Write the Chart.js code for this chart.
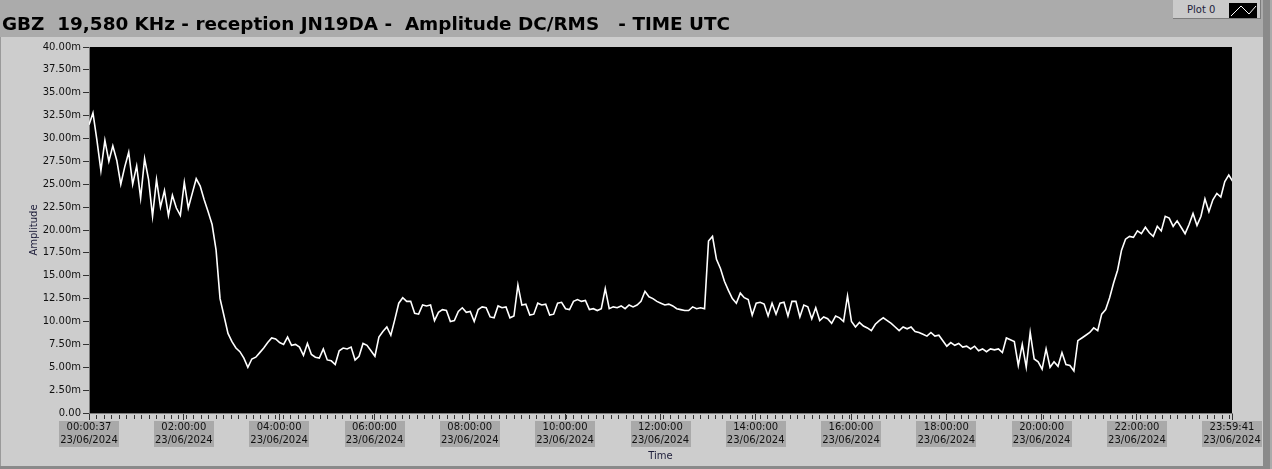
<!DOCTYPE html>
<html>
<head>
<meta charset="utf-8">
<script src="https://cdn.jsdelivr.net/npm/chart.js@4.4.1/dist/chart.umd.min.js"></script>
<style>
  html, body { margin: 0; padding: 0; background: #ababab; }
  #wrap { position: relative; width: 1272px; height: 469px; overflow: hidden; }
  #title { position: absolute; left: 2px; top: 14px; font: bold 18.4px "DejaVu Sans"; line-height: 20px; color: #000; white-space: pre; }
  #legend { position: absolute; left: 1173px; top: 0; width: 88px; height: 19px; background: #cacaca;
            border-right: 1px solid #7c7c7c; border-bottom: 1px solid #7c7c7c; box-sizing: border-box; }
  #legend span { position: absolute; left: 14px; top: 4px; font: 10px "DejaVu Sans"; color: #1d1d3a; }
  #legend svg { position: absolute; left: 56px; top: 3px; }
</style>
</head>
<body>
<div id="wrap">
  <canvas id="graph" width="1272" height="469"></canvas>
  <div id="title">GBZ  19,580 KHz - reception JN19DA -  Amplitude DC/RMS   - TIME UTC</div>
  <div id="legend"><span>Plot 0</span>
    <svg width="28" height="15"><rect width="28" height="15" fill="#000"/><polyline points="2,13 12,3 20,11 27,3" fill="none" stroke="#fff" stroke-width="1"/></svg>
  </div>
</div>
<script>
// samples: one every 5 minutes, first one at 00:00:37
var startSec = 37;
var endSec = 86381;   // 23:59:41
var stepSec = 300;

// amplitude in milli-units
var amplitude = [
  31.5, 32.8, 29.8, 26.5, 29.8, 27.5, 29.2, 27.6, 25.0, 26.9,
  28.5, 25.0, 27.0, 23.5, 27.8, 25.5, 21.5, 25.5, 22.5, 24.3,
  21.6, 23.8, 22.4, 21.6, 25.2, 22.4, 24.0, 25.6, 24.8, 23.3,
  22.0, 20.6, 17.8, 12.5, 10.6, 8.7, 7.8, 7.1, 6.7, 6.0,
  5.0, 5.9, 6.1, 6.6, 7.1, 7.7, 8.2, 8.1, 7.7, 7.5,
  8.3, 7.4, 7.5, 7.2, 6.3, 7.6, 6.4, 6.1, 6.0, 7.0,
  5.8, 5.7, 5.3, 6.8, 7.1, 7.0, 7.2, 5.8, 6.2, 7.6,
  7.4, 6.8, 6.2, 8.3, 8.9, 9.4, 8.5, 10.2, 12.0, 12.6,
  12.2, 12.2, 10.9, 10.8, 11.8, 11.7, 11.8, 10.1, 11.0, 11.3,
  11.2, 10.0, 10.1, 11.1, 11.5, 11.0, 11.1, 10.0, 11.3, 11.6,
  11.5, 10.5, 10.4, 11.7, 11.5, 11.6, 10.4, 10.6, 14.0, 11.8,
  11.9, 10.7, 10.8, 12.0, 11.8, 11.9, 10.7, 10.8, 12.0, 12.1,
  11.4, 11.3, 12.2, 12.4, 12.2, 12.3, 11.3, 11.4, 11.2, 11.4,
  13.6, 11.4, 11.6, 11.5, 11.7, 11.4, 11.8, 11.6, 11.8, 12.2,
  13.3, 12.7, 12.5, 12.2, 12.0, 11.8, 11.9, 11.7, 11.4, 11.3,
  11.2, 11.2, 11.6, 11.4, 11.5, 11.4, 18.8, 19.3, 16.8, 15.8,
  14.4, 13.4, 12.5, 12.0, 13.1, 12.6, 12.4, 10.7, 12.0, 12.1,
  11.9, 10.6, 12.0, 10.8, 12.0, 12.1, 10.6, 12.2, 12.2, 10.5,
  11.8, 11.6, 10.3, 11.5, 10.1, 10.5, 10.3, 9.8, 10.6, 10.4,
  10.0, 12.8, 10.0, 9.4, 9.9, 9.5, 9.3, 9.0, 9.7, 10.1,
  10.4, 10.1, 9.8, 9.4, 9.0, 9.4, 9.2, 9.4, 8.9, 8.8,
  8.6, 8.4, 8.8, 8.4, 8.5, 7.9, 7.3, 7.7, 7.4, 7.6,
  7.2, 7.3, 7.0, 7.3, 6.8, 7.0, 6.7, 7.0, 6.9, 7.0,
  6.6, 8.2, 8.0, 7.8, 5.2, 7.5, 5.0, 8.8, 5.9, 5.6,
  4.8, 7.0, 5.0, 5.6, 5.1, 6.6, 5.3, 5.2, 4.6, 7.9,
  8.2, 8.5, 8.8, 9.3, 9.0, 10.8, 11.3, 12.6, 14.2, 15.6,
  17.8, 19.0, 19.3, 19.2, 19.9, 19.6, 20.3, 19.7, 19.3, 20.4,
  19.9, 21.5, 21.3, 20.4, 21.0, 20.3, 19.6, 20.6, 21.8, 20.5,
  21.5, 23.4, 22.0, 23.3, 24.0, 23.6, 25.3, 26.0, 25.3
];

var xTickSec = [37, 7200, 14400, 21600, 28800, 36000, 43200, 50400, 57600, 64800, 72000, 79200, 86381];
var xTickTime = ['00:00:37', '02:00:00', '04:00:00', '06:00:00', '08:00:00', '10:00:00', '12:00:00',
                 '14:00:00', '16:00:00', '18:00:00', '20:00:00', '22:00:00', '23:59:41'];
var xTickDate = '23/06/2024';
var yTickValues = [0, 2.5, 5, 7.5, 10, 12.5, 15, 17.5, 20, 22.5, 25, 27.5, 30, 32.5, 35, 37.5, 40];
var yTickLabels = ['0.00', '2.50m', '5.00m', '7.50m', '10.00m', '12.50m', '15.00m', '17.50m', '20.00m',
                   '22.50m', '25.00m', '27.50m', '30.00m', '32.50m', '35.00m', '37.50m', '40.00m'];
var minorStepSec = 563;

var FONT = 'DejaVu Sans';

var points = amplitude.map(function(v, i) { return { x: startSec + i * stepSec, y: v }; });

// panel, plot background and the grey boxes behind the time labels
var panelPlugin = {
  id: 'panel',
  beforeDraw: function(chart) {
    var c = chart.ctx, a = chart.chartArea, xs = chart.scales.x;
    c.save();
    c.fillStyle = '#ababab'; c.fillRect(0, 0, chart.width, chart.height);
    c.fillStyle = '#cdcdcd'; c.fillRect(0, 37, 1263, 430);
    c.fillStyle = '#9a9a9a'; c.fillRect(0, 37, 1, 430);
    c.fillStyle = '#8a8a8a'; c.fillRect(1263, 0, 7, chart.height);
    c.fillStyle = '#8a8a8a'; c.fillRect(0, 466, 1263, 3);
    c.fillStyle = '#000'; c.fillRect(a.left, a.top, a.right - a.left, a.bottom - a.top);
    c.font = '10px "' + FONT + '"';
    c.fillStyle = '#a9a9a9';
    xTickSec.forEach(function(t, i) {
      var w = Math.max(c.measureText(xTickTime[i]).width, c.measureText(xTickDate).width) + 2;
      var px = xs.getPixelForValue(t);
      c.fillRect(Math.round(px - w / 2), a.bottom + 8, Math.round(w), 26);
    });
    c.restore();
  },
  afterDraw: function(chart) {
    var c = chart.ctx, a = chart.chartArea, xs = chart.scales.x;
    c.save();
    c.strokeStyle = '#333';
    c.lineWidth = 1;
    c.beginPath();
    for (var t = startSec + minorStepSec; t < endSec; t += minorStepSec) {
      var px = Math.round(xs.getPixelForValue(t)) + 0.5;
      c.moveTo(px, a.bottom + 2);
      c.lineTo(px, a.bottom + 6);
    }
    c.stroke();
    c.restore();
  }
};

var ctx = document.getElementById('graph').getContext('2d');
var graph = new Chart(ctx, {
  type: 'line',
  data: {
    datasets: [{
      label: 'Plot 0',
      data: points,
      borderColor: '#ffffff',
      borderWidth: 1.6,
      pointRadius: 0,
      tension: 0
    }]
  },
  options: {
    responsive: false,
    animation: false,
    layout: { padding: { top: 47, right: 40, bottom: 0, left: 0 } },
    plugins: { legend: { display: false }, tooltip: { enabled: false } },
    scales: {
      x: {
        type: 'linear',
        min: startSec,
        max: endSec,
        afterBuildTicks: function(s) { s.ticks = xTickSec.map(function(v) { return { value: v }; }); },
        afterFit: function(s) { s.height = 56; },
        ticks: {
          autoSkip: false, maxRotation: 0, padding: 1, color: '#111',
          font: { family: FONT, size: 10, lineHeight: 1.3 },
          callback: function(v, i) { return [xTickTime[i], xTickDate]; }
        },
        grid: { drawOnChartArea: false, tickLength: 7, tickColor: '#333', color: '#333' },
        border: { color: '#7a7a7a' },
        title: { display: true, text: 'Time', color: '#1d1d3a', font: { family: FONT, size: 10 }, padding: { top: 0, bottom: 7 } }
      },
      y: {
        min: 0,
        max: 40,
        afterBuildTicks: function(s) { s.ticks = yTickValues.map(function(v) { return { value: v }; }); },
        afterFit: function(s) { s.width = 89; },
        ticks: {
          padding: 2, color: '#111',
          font: { family: FONT, size: 10 },
          callback: function(v, i) { return yTickLabels[i]; }
        },
        grid: { drawOnChartArea: false, tickLength: 6, tickColor: '#333', color: '#333' },
        border: { color: '#7a7a7a' },
        title: { display: true, text: 'Amplitude', color: '#1d1d3a', font: { family: FONT, size: 10 }, padding: { top: 28, bottom: 0 } }
      }
    }
  },
  plugins: [panelPlugin]
});
</script>
</body>
</html>
